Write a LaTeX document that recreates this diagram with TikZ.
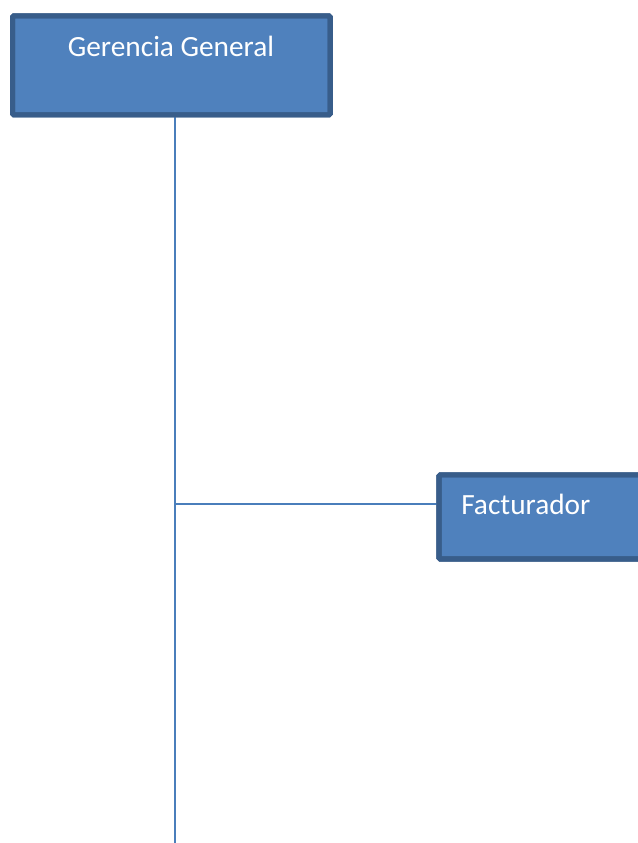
\documentclass[tikz,border=0pt]{standalone}
\usepackage{fontspec}
\setmainfont{Carlito}
\definecolor{boxfill}{HTML}{4F81BD}
\definecolor{boxedge}{HTML}{385D8A}
\definecolor{wire}{HTML}{4A7EBB}
\tikzset{
  orgbox/.style={draw=boxedge, fill=boxfill, line width=3.8pt, rounded corners=1pt,
    inner sep=0pt, outer sep=0pt},
  boxtext/.style={text=white, font=\fontsize{22}{26}\selectfont, inner sep=0pt},
  wireline/.style={draw=wire, line width=1.5pt}
}
\begin{document}
\begin{tikzpicture}[x=0.75pt, y=-0.75pt]
  \clip (0,0) rectangle (638,843);
  \fill[white] (0,0) rectangle (638,843);

  % connector coordinates
  \coordinate (trunkend) at (175,843);
  \coordinate (tee) at (175,503.5);

  % boxes
  \node[orgbox, minimum width=317.7*0.75pt, minimum height=99*0.75pt] (gg) at (171.4,65.3) {};
  \node[orgbox, minimum width=260*0.75pt, minimum height=84.2*0.75pt, anchor=west] (fa) at (439,516.9) {};

  % connectors
  \draw[wireline] (gg.south -| trunkend) -- (trunkend);
  \draw[wireline] (tee) -- (fa.west |- tee);

  % box outlines redrawn over the connector ends
  \draw[draw=boxedge, line width=3.8pt, rounded corners=1pt] (gg.south west) rectangle (gg.north east);
  \draw[draw=boxedge, line width=3.8pt, rounded corners=1pt] (fa.south west) rectangle (fa.north east);

  % labels
  \node[boxtext, anchor=base] (ggtext) at (171,56) {Gerencia General};
  \node[boxtext, anchor=base west] (fatext) at (461,514) {Facturador};
\end{tikzpicture}
\end{document}
